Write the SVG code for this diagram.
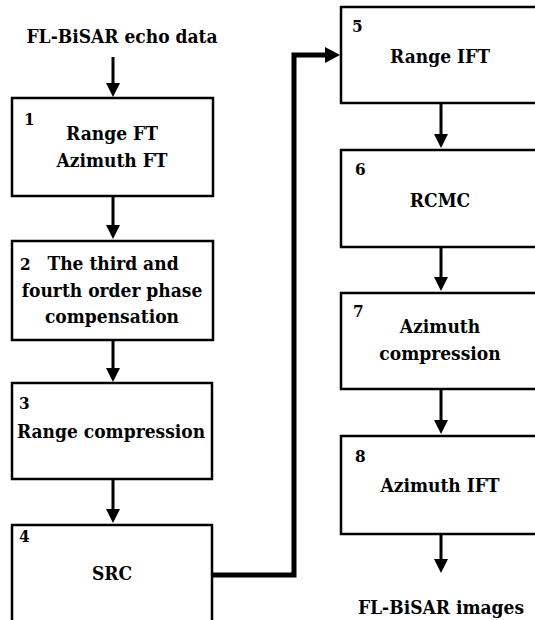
<svg xmlns="http://www.w3.org/2000/svg" width="535" height="620" viewBox="0 0 535 620">
<defs>
<style>
.box{fill:#fff;stroke:#000;stroke-width:2.5}
text{font-family:'DejaVu Serif Condensed','DejaVu Serif',serif;font-stretch:condensed;font-weight:bold;fill:#000}
.t{font-size:19px;text-anchor:middle}
.n{font-size:17px}
.c{fill:none;stroke:#000;stroke-width:3;marker-end:url(#ah)}
.thick{fill:none;stroke:#000;stroke-width:5;stroke-linejoin:miter;marker-end:url(#ah2)}
</style>
<marker id="ah" markerUnits="userSpaceOnUse" markerWidth="16" markerHeight="14" refX="8" refY="7" orient="auto">
<path d="M0,0 L14,7 L0,14 z" fill="#000"/>
</marker>
<marker id="ah2" markerUnits="userSpaceOnUse" markerWidth="16" markerHeight="16" refX="8" refY="8" orient="auto">
<path d="M0,0 L15,8 L0,16 z" fill="#000"/>
</marker>
</defs>
<rect width="535" height="620" fill="#fff"/>
<text class="t" x="122" y="43">FL-BiSAR echo data</text>
<text class="t" x="441" y="614">FL-BiSAR images</text>
<g id="connectors">
<path class="c" d="M113,57 V91"/>
<path class="c" d="M113,196 V233"/>
<path class="c" d="M113,340 V376"/>
<path class="c" d="M113,479 V517"/>
<path class="c" d="M441,103 V142"/>
<path class="c" d="M441,247 V285"/>
<path class="c" d="M441,389 V428"/>
<path class="c" d="M441,534 V567"/>
<path class="thick" d="M212,575 H294 V55 H333"/>
</g>
<g id="node1">
<rect class="box" x="12" y="98" width="201" height="98"/>
<text class="n" x="24" y="125">1</text>
<text class="t" x="112" y="140">Range FT</text>
<text class="t" x="112" y="167">Azimuth FT</text>
</g>
<g id="node2">
<rect class="box" x="12" y="241" width="201" height="99"/>
<text class="n" x="20" y="270">2</text>
<text class="t" x="113" y="270">The third and</text>
<text class="t" x="112" y="297">fourth order phase</text>
<text class="t" x="112" y="323">compensation</text>
</g>
<g id="node3">
<rect class="box" x="12" y="383" width="200" height="96"/>
<text class="n" x="19" y="409">3</text>
<text class="t" x="111" y="438">Range compression</text>
</g>
<g id="node4">
<rect class="box" x="12" y="525" width="200" height="110"/>
<text class="n" x="19" y="542">4</text>
<text class="t" x="112" y="580">SRC</text>
</g>
<g id="node5">
<rect class="box" x="341" y="7" width="200" height="96"/>
<text class="n" x="352" y="32">5</text>
<text class="t" x="440" y="63">Range IFT</text>
</g>
<g id="node6">
<rect class="box" x="341" y="150" width="200" height="97"/>
<text class="n" x="355" y="175">6</text>
<text class="t" x="440" y="207">RCMC</text>
</g>
<g id="node7">
<rect class="box" x="341" y="293" width="200" height="96"/>
<text class="n" x="353" y="317">7</text>
<text class="t" x="440" y="333">Azimuth</text>
<text class="t" x="440" y="360">compression</text>
</g>
<g id="node8">
<rect class="box" x="341" y="436" width="200" height="98"/>
<text class="n" x="355" y="462">8</text>
<text class="t" x="440" y="492">Azimuth IFT</text>
</g>
</svg>
